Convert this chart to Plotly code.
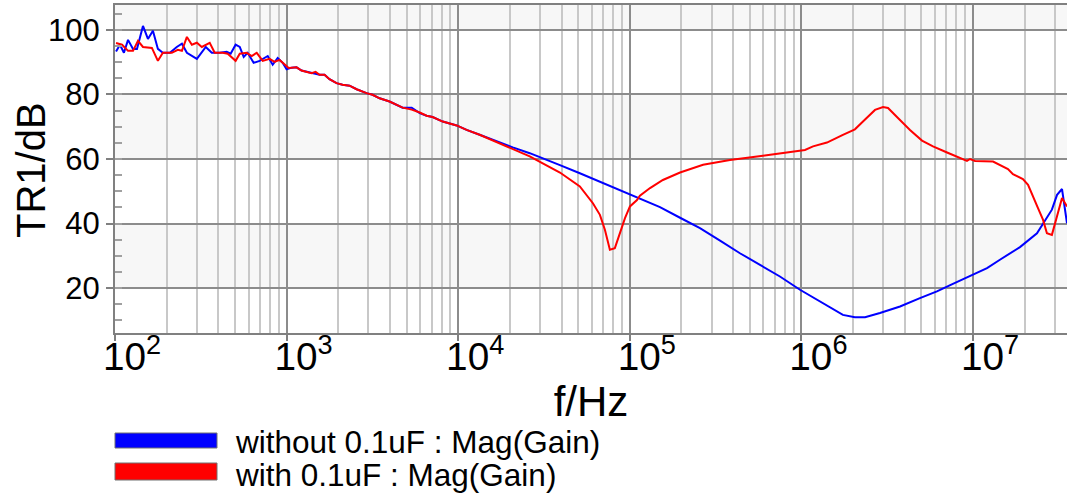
import numpy as np
import plotly.graph_objects as go

# log10(frequency / Hz) and magnitude (dB)
blue_logf = [2.006, 2.029, 2.052, 2.076, 2.105, 2.128, 2.163, 2.192, 2.221, 2.250, 2.279, 2.320,
             2.360, 2.390, 2.419, 2.477, 2.529, 2.564, 2.610, 2.651, 2.674, 2.703, 2.727, 2.750,
             2.773, 2.808, 2.843, 2.890, 2.919, 2.948, 2.977, 3.000, 3.029, 3.058, 3.087, 3.116,
             3.145, 3.192, 3.221, 3.250, 3.291, 3.326, 3.367, 3.408, 3.466, 3.501, 3.542, 3.600,
             3.676, 3.729, 3.776, 3.816, 3.851, 3.910, 3.991, 4.049, 4.125, 4.224, 4.318, 4.417,
             4.476, 4.593, 4.709, 4.826, 4.943, 5.059, 5.176, 5.293, 5.409, 5.526, 5.642, 5.759,
             5.875, 5.992, 6.108, 6.242, 6.312, 6.371, 6.458, 6.575, 6.691, 6.790, 6.883, 7.000,
             7.082, 7.157, 7.274, 7.373, 7.408, 7.460, 7.490, 7.519, 7.548]
blue_db = [93.3, 95.4, 92.9, 96.9, 94.1, 94.1, 101.2, 97.2, 99.7, 94.1, 92.9, 92.9,
           94.7, 95.7, 92.9, 91.0, 94.7, 92.9, 92.9, 93.2, 92.6, 95.4, 94.7, 91.6,
           92.9, 89.8, 90.4, 91.9, 89.2, 91.3, 89.8, 87.8, 88.3, 88.4, 87.4, 87.1,
           86.6, 86.1, 86.1, 84.7, 83.5, 83.0, 82.7, 81.6, 80.4, 79.9, 78.8, 77.8,
           75.9, 75.9, 74.2, 73.4, 73.0, 71.6, 70.4, 69.0, 67.5, 65.4, 63.6, 61.8,
           60.6, 58.1, 55.6, 53.0, 50.4, 47.9, 45.1, 41.8, 38.6, 34.7, 30.8, 27.2,
           23.6, 19.5, 15.8, 11.7, 11.0, 11.0, 12.3, 14.3, 16.9, 19.0, 21.3, 24.1,
           26.2, 28.8, 32.7, 37.0, 39.9, 44.3, 48.9, 50.7, 40.1]

red_logf = [2.006, 2.041, 2.076, 2.105, 2.134, 2.163, 2.215, 2.250, 2.279, 2.331, 2.366, 2.390,
            2.419, 2.448, 2.477, 2.506, 2.552, 2.581, 2.628, 2.657, 2.703, 2.727, 2.767, 2.797,
            2.826, 2.861, 2.901, 2.930, 2.959, 2.988, 3.012, 3.029, 3.058, 3.087, 3.116, 3.145,
            3.169, 3.192, 3.221, 3.250, 3.291, 3.326, 3.367, 3.408, 3.466, 3.501, 3.542, 3.600,
            3.676, 3.729, 3.776, 3.816, 3.851, 3.910, 3.991, 4.049, 4.125, 4.224, 4.318, 4.417,
            4.593, 4.709, 4.785, 4.826, 4.855, 4.884, 4.913, 4.943, 4.972, 5.001, 5.042, 5.059,
            5.118, 5.193, 5.293, 5.427, 5.584, 5.776, 5.951, 6.021, 6.068, 6.149, 6.242, 6.312,
            6.359, 6.429, 6.476, 6.505, 6.563, 6.633, 6.703, 6.767, 6.849, 6.907, 6.965, 6.983,
            7.012, 7.117, 7.157, 7.204, 7.233, 7.291, 7.321, 7.344, 7.379, 7.408, 7.431, 7.460,
            7.490, 7.519, 7.548]
red_db = [95.9, 95.4, 93.5, 93.5, 96.6, 94.7, 94.4, 90.4, 92.9, 92.9, 93.8, 93.5,
          97.8, 95.4, 96.0, 94.7, 96.0, 92.9, 92.9, 92.6, 90.4, 92.6, 92.9, 91.9,
          92.9, 90.4, 91.0, 90.1, 90.7, 89.2, 88.2, 88.3, 88.4, 87.4, 87.1, 86.6,
          87.0, 86.1, 86.1, 84.7, 83.5, 83.0, 82.7, 81.6, 80.4, 79.9, 78.8, 77.8,
          75.9, 75.3, 74.4, 73.4, 73.0, 71.6, 70.4, 69.0, 67.5, 65.3, 63.2, 60.8,
          55.8, 51.5, 46.3, 42.7, 38.1, 31.9, 32.4, 37.0, 41.7, 45.3, 47.3, 48.6,
          51.0, 53.5, 55.8, 58.2, 59.7, 61.0, 62.3, 62.8, 63.9, 65.1, 67.5, 69.2,
          71.6, 75.2, 76.1, 75.8, 72.7, 69.0, 65.7, 63.9, 62.0, 60.6, 59.4, 60.0,
          59.4, 59.2, 58.2, 56.9, 55.3, 53.8, 52.0, 48.9, 44.8, 41.2, 37.0, 36.5,
          42.2, 47.9, 45.3]

series_names = ["without 0.1uF : Mag(Gain)", "with 0.1uF : Mag(Gain)"]
series_colors = ["#0000FF", "#FF0000"]
x_title = "f/Hz"
y_title = "TR1/dB"

FONT = "Liberation Sans, Arial, sans-serif"
Y_RANGE = [6.1, 107.7]
X_RANGE = [2.0, 7.548]

fig = go.Figure()
fig.add_trace(go.Scatter(x=10 ** np.array(blue_logf), y=blue_db, mode="lines",
                         line=dict(color=series_colors[0], width=2), name=series_names[0],
                         showlegend=False))
fig.add_trace(go.Scatter(x=10 ** np.array(red_logf), y=red_db, mode="lines",
                         line=dict(color=series_colors[1], width=2), name=series_names[1],
                         showlegend=False))

shapes = []
# alternating horizontal bands
for y0, y1 in [(100, Y_RANGE[1]), (60, 80), (20, 40)]:
    shapes.append(dict(type="rect", xref="paper", yref="y", x0=0, x1=1, y0=y0, y1=y1,
                       fillcolor="#F7F7F7", line=dict(width=0), layer="below"))

# paper coords helpers (plot area 952 x 328 px, origin at 115,333)
PW, PH = 952.0, 328.0
def px_x(px):
    return (px - 115) / PW
def px_y(py):
    return (333 - py) / PH

anns = []
rows = [(433, 448, 442), (463, 480, 475)]
for (ya, yb, yt), name, col in zip(rows, series_names, series_colors):
    shapes.append(dict(type="rect", xref="paper", yref="paper",
                       x0=px_x(115), x1=px_x(217), y0=px_y(yb), y1=px_y(ya),
                       fillcolor=col, line=dict(color="#707070", width=1), layer="above"))
    anns.append(dict(xref="paper", yref="paper", x=px_x(233), y=px_y(yt), text=name,
                     showarrow=False, xanchor="left", yanchor="middle",
                     font=dict(family=FONT, size=31.5, color="black")))

# y axis title
anns.append(dict(xref="paper", yref="paper", x=px_x(31), y=px_y(170), text=y_title,
                 textangle=-90, showarrow=False, xanchor="center", yanchor="middle",
                 font=dict(family=FONT, size=40, color="black")))

fig.update_layout(
    width=1067, height=499,
    margin=dict(l=115, r=0, t=5, b=166),
    paper_bgcolor="white", plot_bgcolor="white",
    font=dict(family=FONT, color="black"),
    shapes=shapes, annotations=anns,
    showlegend=False,
)
fig.update_xaxes(
    type="log", range=X_RANGE, dtick=1, exponentformat="power",
    tickfont=dict(size=31, family=FONT), ticks="outside", ticklen=6, tickwidth=1.5,
    tickcolor="#808080", ticklabelshift=17, ticklabelstandoff=-16,
    showgrid=True, gridcolor="#8C8C8C", gridwidth=1.5,
    minor=dict(dtick="D1", showgrid=True, gridcolor="#C8C8C8", gridwidth=2, ticks=""),
    showline=True, linecolor="#808080", linewidth=2, mirror=True,
    zeroline=False,
    title=dict(text=x_title, font=dict(size=42, family=FONT), standoff=3),
)
fig.update_yaxes(
    range=Y_RANGE, tick0=0, dtick=20,
    tickfont=dict(size=31, family=FONT), ticks="outside", ticklen=7, tickwidth=1.5,
    tickcolor="#808080",
    showgrid=True, gridcolor="#8C8C8C", gridwidth=1.5,
    minor=dict(dtick=5, tick0=0, ticks="inside", ticklen=7, tickcolor="#A0A0A0",
               tickwidth=1.5, showgrid=False),
    showline=True, linecolor="#808080", linewidth=2,
    zeroline=False,
)

fig.write_html("out.html")
